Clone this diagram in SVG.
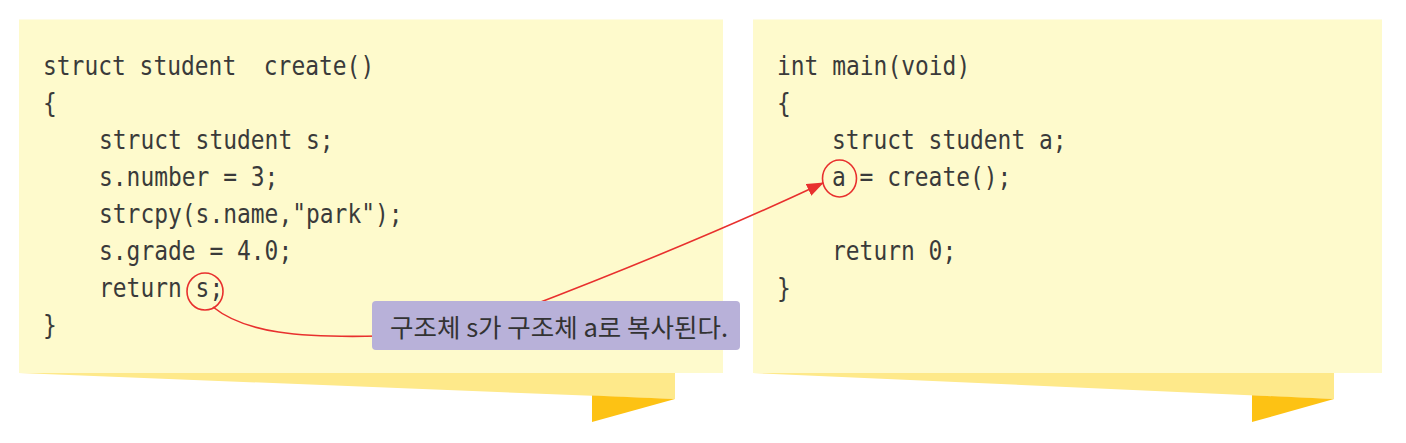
<svg xmlns="http://www.w3.org/2000/svg" width="1406" height="443" viewBox="0 0 1406 443">
<style>
.panel{fill:#FEFACC}
.ribbon{fill:#FEE98A}
.fold{fill:#FDC214}
.code{font-family:"DejaVu Sans Mono","Liberation Mono",monospace;font-size:27px;fill:#3a3a3a;white-space:pre}
.mark{fill:none;stroke:#E8302E;stroke-width:1.6}
.conn{fill:none;stroke:#E8302E;stroke-width:1.6}
.label-box{fill:#B8B1D9}
.label{font-family:"Noto Sans CJK KR","Noto Sans",sans-serif;font-size:25px;fill:#333333}
</style>
<defs>
<marker id="arrow" markerWidth="17" markerHeight="13" refX="16" refY="6.5" orient="auto" markerUnits="userSpaceOnUse">
<path d="M0,0 L17,6.5 L0,13 Z" fill="#E8302E"/>
</marker>
</defs>
<rect width="1406" height="443" fill="#FFFFFF"/>
<g id="panel-create">
<polygon class="ribbon" points="19,373 675,373 675,399"/>
<polygon class="fold" points="592,395.6 675,399 592,422"/>
<rect class="panel" x="19" y="19.5" width="704" height="353.5"/>
<text class="code" x="43" y="75" textLength="331.2" lengthAdjust="spacingAndGlyphs">struct student  create()</text>
<text class="code" x="43" y="112" textLength="13.8" lengthAdjust="spacingAndGlyphs">{</text>
<text class="code" x="99" y="149" textLength="234.6" lengthAdjust="spacingAndGlyphs">struct student s;</text>
<text class="code" x="99" y="186" textLength="179.4" lengthAdjust="spacingAndGlyphs">s.number = 3;</text>
<text class="code" x="99" y="223" textLength="303.6" lengthAdjust="spacingAndGlyphs">strcpy(s.name,"park");</text>
<text class="code" x="99" y="260" textLength="193.2" lengthAdjust="spacingAndGlyphs">s.grade = 4.0;</text>
<text class="code" x="99" y="297" textLength="124.2" lengthAdjust="spacingAndGlyphs">return s;</text>
<text class="code" x="43" y="334" textLength="13.8" lengthAdjust="spacingAndGlyphs">}</text>
<ellipse class="mark" cx="205" cy="291.5" rx="18" ry="18.5"/>
</g>
<g id="panel-main">
<polygon class="ribbon" points="753,373 1334,373 1334,399"/>
<polygon class="fold" points="1252,395.3 1334,399 1252,422"/>
<rect class="panel" x="753" y="19.5" width="629" height="353.5"/>
<text class="code" x="777" y="75" textLength="193.2" lengthAdjust="spacingAndGlyphs">int main(void)</text>
<text class="code" x="777" y="112" textLength="13.8" lengthAdjust="spacingAndGlyphs">{</text>
<text class="code" x="832" y="149" textLength="234.6" lengthAdjust="spacingAndGlyphs">struct student a;</text>
<text class="code" x="832" y="186" textLength="179.4" lengthAdjust="spacingAndGlyphs">a = create();</text>
<text class="code" x="832" y="260" textLength="124.2" lengthAdjust="spacingAndGlyphs">return 0;</text>
<text class="code" x="777" y="297" textLength="13.8" lengthAdjust="spacingAndGlyphs">}</text>
<ellipse class="mark" cx="839.5" cy="178.5" rx="17" ry="18.5"/>
</g>
<g id="connectors">
<path class="conn" d="M213,307 C245,333 300,338 380,336"/>
<path class="conn" d="M520,310 Q695,243 823,183" marker-end="url(#arrow)"/>
</g>
<g id="note">
<rect class="label-box" x="372" y="301" width="368" height="49" rx="4"/>
<text class="label" x="390" y="337" textLength="338" lengthAdjust="spacingAndGlyphs">구조체 s가 구조체 a로 복사된다.</text>
</g>
</svg>
